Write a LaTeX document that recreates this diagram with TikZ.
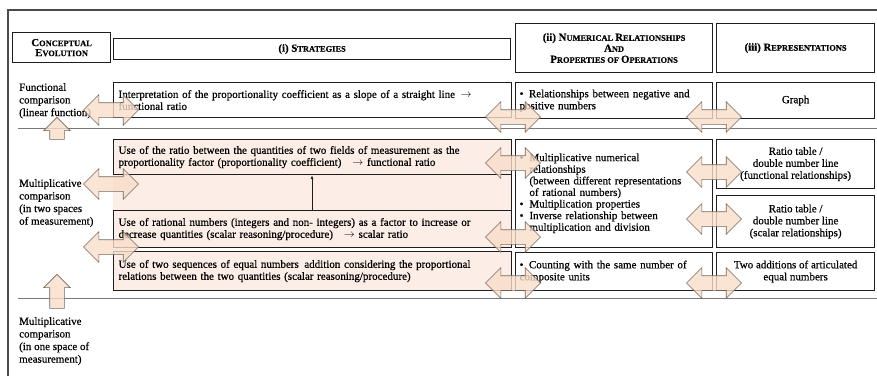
\documentclass[tikz,border=0pt]{standalone}
\usepackage{fontspec}
\setmainfont{Liberation Serif}[FakeBold=0.5]
\usetikzlibrary{shapes.arrows,arrows.meta}
\definecolor{boxline}{RGB}{30,30,30}
\definecolor{shade}{RGB}{252,238,231}
\definecolor{arrfill}{RGB}{249,221,200}
\definecolor{arrline}{RGB}{115,105,95}
\definecolor{sepline}{RGB}{120,120,120}
\newcommand\hsc[2]{{\fontsize{10.8}{12}\selectfont #1}{\fontsize{8.4}{12}\selectfont #2}}
\tikzset{
  bx/.style={draw=boxline, line width=1.2pt, anchor=north west, inner sep=4pt},
  hbx/.style={bx, align=center, font=\bfseries},
  sbx/.style={bx, align=left},
  cbx/.style={bx, align=center},
  lab/.style={anchor=north west, align=left, inner sep=0pt, font=\fontsize{11}{12.6}\selectfont},
  darr/.style={double arrow, draw=arrline, line width=0.6pt, fill=arrfill, fill opacity=0.8,
    inner sep=7pt, double arrow head extend=8pt, minimum height=55pt},
  uarr/.style={single arrow, shape border rotate=90, draw=arrline, line width=0.6pt, fill=arrfill, fill opacity=0.8,
    inner sep=7pt, single arrow head extend=6pt},
  sep/.style={draw=sepline, line width=0.8pt}
}
\begin{document}
\begin{tikzpicture}[x=1pt,y=-1pt, font=\fontsize{11}{12}\selectfont]
\useasboundingbox (0,0) rectangle (877,376);
% frame
\draw[boxline!80, line width=1.5pt] (8,376) -- (8,10) -- (877,10);
% header
\node[hbx, minimum width=98, minimum height=30, inner sep=2pt] (ce) at (12,32) {\hsc{C}{ONCEPTUAL}\\[-2pt]\hsc{E}{VOLUTION}};
\node[hbx, minimum width=397, minimum height=21, inner sep=1pt] (st) at (113,38) {\hsc{(i) S}{TRATEGIES}};
\node[hbx, minimum width=197, minimum height=49, inner sep=1pt] (nr) at (515,23) {\hsc{(ii) N}{UMERICAL }\hsc{R}{ELATIONSHIPS}\\[-1pt]\hsc{A}{ND}\\[-1pt]\hsc{P}{ROPERTIES OF }\hsc{O}{PERATIONS}};
\node[hbx, minimum width=158, minimum height=49] (rp) at (716,23) {\hsc{(iii) R}{EPRESENTATIONS}};
% separators
\coordinate (s1l) at (18,128); \coordinate (s1r) at (877,128);
\coordinate (s2l) at (18,298); \coordinate (s2r) at (877,298);
\draw[sep] (s1l) -- (s1r);
\draw[sep] (s2l) -- (s2r);
% row 1
\node[lab] (lab1) at (19,83) {Functional\\comparison\\(linear function)};
\node[sbx, minimum width=398, minimum height=35, text width=388] (s1) at (113,82) {Interpretation of the proportionality coefficient as a slope of a straight line\enspace$\rightarrow$\\functional ratio};
\node[sbx, minimum width=197, minimum height=36, text width=189, inner sep=3pt] (n1) at (515,82) {\textbullet\enspace Relationships between negative and\\positive numbers};
\node[cbx, minimum width=158, minimum height=36] (r1) at (716,82) {Graph};
% row 2
\node[anchor=north west, fill=shade, minimum width=398, minimum height=108, inner sep=0pt] (grp) at (113,139) {};
\draw[boxline, line width=1.2pt] (grp.north east) -- (grp.south east);
\node[sbx, fill=shade, minimum width=398, minimum height=35, text width=388] (sA) at (113,139) {Use of the ratio between the quantities of two fields of measurement as the\\proportionality factor (proportionality coefficient)\quad$\rightarrow$ functional ratio};
\node[sbx, fill=shade, minimum width=398, minimum height=37, text width=388] (sB) at (113,210) {Use of rational numbers (integers and non- integers) as a factor to increase or\\decrease quantities (scalar reasoning/procedure)\quad$\rightarrow$ scalar ratio};
\coordinate (vb) at (312,210);
\draw[-{Latex[length=4pt,width=3pt]}, line width=0.7pt, boxline] (vb) -- (vb |- sA.south);
\node[sbx, minimum width=197, minimum height=108, text width=189, inner sep=3pt] (n2) at (515,139) {%
\fontsize{11}{11.6}\selectfont
\begin{tabular}{@{}l@{\hspace{6pt}}l@{}}
\textbullet & Multiplicative numerical\\
 & relationships\\
 & (between different representations\\
 & of rational numbers)\\
\textbullet & Multiplication properties\\
\textbullet & Inverse relationship between\\
 & multiplication and division
\end{tabular}};
\node[cbx, minimum width=158, minimum height=49] (r2) at (716,139) {Ratio table /\\double number line\\(functional relationships)};
\node[cbx, minimum width=158, minimum height=52] (r3) at (716,195) {Ratio table /\\double number line\\(scalar relationships)};
\node[lab] (lab2) at (19,179) {Multiplicative\\comparison\\(in two spaces\\of measurement)};
% row 3
\node[sbx, fill=shade, minimum width=398, minimum height=39, text width=388] (sC) at (113,251) {Use of two sequences of equal numbers\enspace addition considering the proportional\\relations between the two quantities (scalar reasoning/procedure)};
\node[sbx, minimum width=197, minimum height=38, text width=189, inner sep=3pt] (n3) at (515,252) {\textbullet\enspace Counting with the same number of\\composite units};
\node[cbx, minimum width=158, minimum height=38] (r4) at (716,252) {Two additions of articulated\\equal numbers};
\node[lab] (lab3) at (19,317) {Multiplicative\\comparison\\(in one space of\\measurement)};
% block arrows
\node[uarr, minimum height=22] (u1) at (57,132) {};
\node[uarr, minimum height=34] (u2) at (57,295) {};
\node[darr] (aL1) at (111,110) {};
\node[darr] (aL2) at (111,184) {};
\node[darr] (aL3) at (111,247) {};
\node[darr] (aM1) at (513,117) {};
\node[darr] (aM2) at (513,163) {};
\node[darr] (aM3) at (513,237) {};
\node[darr] (aM4) at (513,283) {};
\node[darr] (aR1) at (714,117) {};
\node[darr] (aR2) at (714,172) {};
\node[darr] (aR3) at (714,219) {};
\node[darr] (aR4) at (714,283) {};
\end{tikzpicture}
\end{document}
